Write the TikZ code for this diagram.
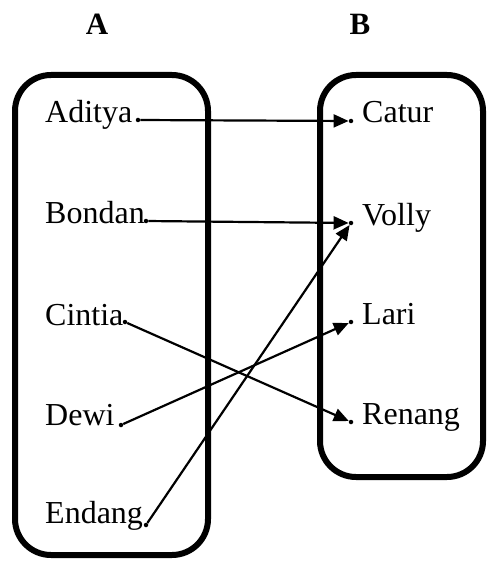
\documentclass[tikz,border=0pt]{standalone}
\usepackage{fontspec}
\setmainfont{Liberation Serif}
\usetikzlibrary{arrows.meta}

\begin{document}
\begin{tikzpicture}[x=1pt, y=-1pt, >={Triangle[length=15pt,width=13pt]},
  every node/.style={font=\fontsize{32}{38}\selectfont},
  set/.style={line width=6pt, rounded corners=36pt},
  dot/.style={circle, fill, inner sep=0pt, minimum size=4.5pt},
  item/.style={anchor=base west, inner sep=0pt},
  map/.style={->, line width=2.2pt}]
  \useasboundingbox (0,0) rectangle (487,561);

  % the two sets
  \node[font=\fontsize{31}{36}\selectfont\bfseries] (setA) at (97,24) {A};
  \node[font=\fontsize{31}{36}\selectfont\bfseries] (setB) at (360,24) {B};
  \draw[set] (15,75) rectangle (208,555);
  \draw[set] (320,75) rectangle (483,477);

  % domain
  \node[item] (aditya) at (45,123) {Aditya};
  \node[item] (bondan) at (45,223) {Bondan};
  \node[item] (cintia) at (45,325) {Cintia};
  \node[item] (dewi)   at (45,425) {Dewi};
  \node[item] (endang) at (45,523) {Endang};
  \node[dot] (a) at (138,120) {};
  \node[dot] (b) at (146,221) {};
  \node[dot] (c) at (125,322) {};
  \node[dot] (d) at (121,425) {};
  \node[dot] (e) at (146,525) {};

  % codomain
  \node[item] (catur)  at (362,123) {Catur};
  \node[item] (volly)  at (362,225) {Volly};
  \node[item] (lari)   at (362,324) {Lari};
  \node[item] (renang) at (362,424) {Renang};
  \node[dot] (p) at (351,121) {};
  \node[dot] (q) at (351,223) {};
  \node[dot] (r) at (351,322) {};
  \node[dot] (s) at (351,422) {};

  % relation
  \draw[map] (a) -- (p);
  \draw[map] (b) -- (q);
  \draw[map] (c) -- (s);
  \draw[map] (d) -- (r);
  \draw[map] (e) -- (q);
\end{tikzpicture}
\end{document}
